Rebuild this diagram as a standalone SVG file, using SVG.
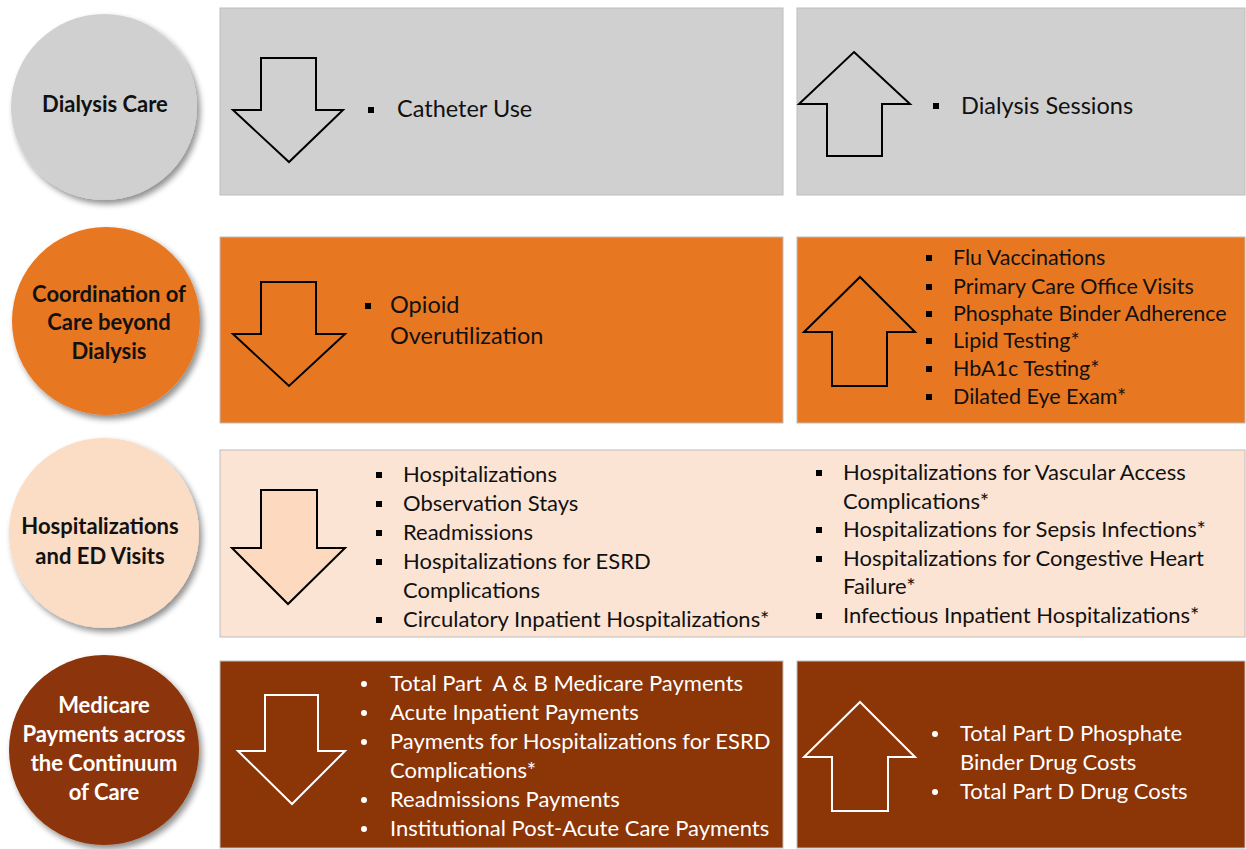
<svg xmlns="http://www.w3.org/2000/svg" width="1246" height="849" viewBox="0 0 1246 849">
<style>
.t{font-family:Lato,"Liberation Sans",sans-serif;font-size:22px;fill:#111}
.big{font-size:23.5px}
.sm{font-size:21.5px}
.h{font-family:Lato,"Liberation Sans",sans-serif;font-size:22px;font-weight:bold;fill:#111;text-anchor:middle}
.t.w,.h.w{fill:#fff}
.pre{white-space:pre}
.box{stroke:#bdbdbd;stroke-width:1}
.ar{stroke:#000;stroke-width:2;stroke-linejoin:miter}
.arw{stroke:#fff;stroke-width:2;fill:none}
</style>
<defs>
<filter id="sh" x="-20%" y="-20%" width="150%" height="150%">
<feGaussianBlur in="SourceAlpha" stdDeviation="3"/>
<feOffset dx="3" dy="4"/>
<feComponentTransfer><feFuncA type="linear" slope="0.45"/></feComponentTransfer>
<feMerge><feMergeNode/><feMergeNode in="SourceGraphic"/></feMerge>
</filter>
<rect id="sq" x="-3" y="-3" width="6" height="6" fill="#000"/>
<circle id="dot" r="3" fill="#fff"/>
</defs>
<rect width="1246" height="849" fill="#fff"/>

<g id="row1">
<g id="c1"><circle cx="104" cy="107" r="93" fill="#D0D0D0" filter="url(#sh)"/><text class="h" x="105" y="112">Dialysis Care</text></g>
<g id="b1l"><rect class="box" x="220" y="8" width="563" height="187" fill="#D0D0D0"/>
<polygon class="ar" fill="#D0D0D0" points="261,58 316,58 316,110 343,110 289,162 233,110 261,110"/>
<use href="#sq" x="371" y="110"/><text class="t big" x="397" y="117">Catheter Use</text></g>
<g id="b1r"><rect class="box" x="797" y="8" width="448" height="187" fill="#D0D0D0"/>
<polygon class="ar" fill="#D0D0D0" points="854,52 910,104 882,104 882,156 827,156 827,104 799,104"/>
<use href="#sq" x="936" y="106"/><text class="t big" x="961" y="114">Dialysis Sessions</text></g>
</g>

<g id="row2">
<g id="c2"><circle cx="106" cy="321" r="94" fill="#E87722" filter="url(#sh)"/>
<text class="h" x="109" y="302">Coordination of</text><text class="h" x="109" y="330">Care beyond</text><text class="h" x="109" y="359">Dialysis</text></g>
<g id="b2l"><rect class="box" x="220" y="237" width="563" height="186" fill="#E87722" stroke="#d9a07a"/>
<polygon class="ar" fill="#E87722" points="261,282 316,282 316,334 345,334 289,386 233,334 261,334"/>
<use href="#sq" x="368" y="306"/><text class="t big" x="390" y="313">Opioid</text><text class="t big" x="390" y="344">Overutilization</text></g>
<g id="b2r"><rect class="box" x="797" y="237" width="448" height="186" fill="#E87722"/>
<polygon class="ar" fill="#E87722" points="860,277 915,332 887,332 887,386 832,386 832,332 804,332"/>
<use href="#sq" x="929" y="258"/><text class="t sm" x="953" y="265">Flu Vaccinations</text>
<use href="#sq" x="929" y="287"/><text class="t sm" x="953" y="294">Primary Care Office Visits</text>
<use href="#sq" x="929" y="314"/><text class="t sm" x="953" y="321">Phosphate Binder Adherence</text>
<use href="#sq" x="929" y="341"/><text class="t sm" x="953" y="348">Lipid Testing*</text>
<use href="#sq" x="929" y="369"/><text class="t sm" x="953" y="376">HbA1c Testing*</text>
<use href="#sq" x="929" y="397"/><text class="t sm" x="953" y="404">Dilated Eye Exam*</text></g>
</g>

<g id="row3">
<g id="c3"><circle cx="104" cy="533" r="95" fill="#FBDCC4" filter="url(#sh)"/>
<text class="h" x="100" y="534">Hospitalizations</text><text class="h" x="100" y="564">and ED Visits</text></g>
<g id="b3"><rect class="box" x="220" y="450" width="1025" height="187" fill="#FCE4D4" stroke="#c9c9c9"/>
<polygon class="ar" fill="#FCD9BF" points="261,490 317,490 317,548 345,548 288,604 232,548 261,548"/>
<use href="#sq" x="379" y="475"/><text class="t" x="403" y="482">Hospitalizations</text>
<use href="#sq" x="379" y="504"/><text class="t" x="403" y="511">Observation Stays</text>
<use href="#sq" x="379" y="533"/><text class="t" x="403" y="540">Readmissions</text>
<use href="#sq" x="379" y="562"/><text class="t" x="403" y="569">Hospitalizations for ESRD</text>
<text class="t" x="403" y="598">Complications</text>
<use href="#sq" x="379" y="620"/><text class="t" x="403" y="627">Circulatory Inpatient Hospitalizations*</text>
<use href="#sq" x="819" y="473"/><text class="t" x="843" y="480">Hospitalizations for Vascular Access</text>
<text class="t" x="843" y="509">Complications*</text>
<use href="#sq" x="819" y="530"/><text class="t" x="843" y="537">Hospitalizations for Sepsis Infections*</text>
<use href="#sq" x="819" y="559"/><text class="t" x="843" y="566">Hospitalizations for Congestive Heart</text>
<text class="t" x="843" y="594">Failure*</text>
<use href="#sq" x="819" y="616"/><text class="t" x="843" y="623">Infectious Inpatient Hospitalizations*</text></g>
</g>

<g id="row4">
<g id="c4"><circle cx="104" cy="750" r="95" fill="#8C3507" filter="url(#sh)"/>
<text class="h w" x="104" y="713">Medicare</text><text class="h w" x="104" y="742">Payments across</text><text class="h w" x="104" y="771">the Continuum</text><text class="h w" x="104" y="800">of Care</text></g>
<g id="b4l"><rect class="box" x="220" y="661" width="563" height="187" fill="#8C3507"/>
<polygon class="arw" points="265,695 318,695 318,751 345,751 292,804 238,751 265,751"/>
<use href="#dot" x="364" y="684"/><text class="t w pre" x="390" y="691">Total Part  A &amp; B Medicare Payments</text>
<use href="#dot" x="364" y="713"/><text class="t w" x="390" y="720">Acute Inpatient Payments</text>
<use href="#dot" x="364" y="742"/><text class="t w" x="390" y="749">Payments for Hospitalizations for ESRD</text>
<text class="t w" x="390" y="778">Complications*</text>
<use href="#dot" x="364" y="800"/><text class="t w" x="390" y="807">Readmissions Payments</text>
<use href="#dot" x="364" y="829"/><text class="t w" x="390" y="836">Institutional Post-Acute Care Payments</text></g>
<g id="b4r"><rect class="box" x="797" y="661" width="448" height="187" fill="#8C3507"/>
<polygon class="arw" points="860,702 915,757 888,757 888,811 832,811 832,757 804,757"/>
<use href="#dot" x="935" y="734"/><text class="t w" x="960" y="741">Total Part D Phosphate</text>
<text class="t w" x="960" y="770">Binder Drug Costs</text>
<use href="#dot" x="935" y="792"/><text class="t w" x="960" y="799">Total Part D Drug Costs</text></g>
</g>
<g id="connectors"/>
</svg>
